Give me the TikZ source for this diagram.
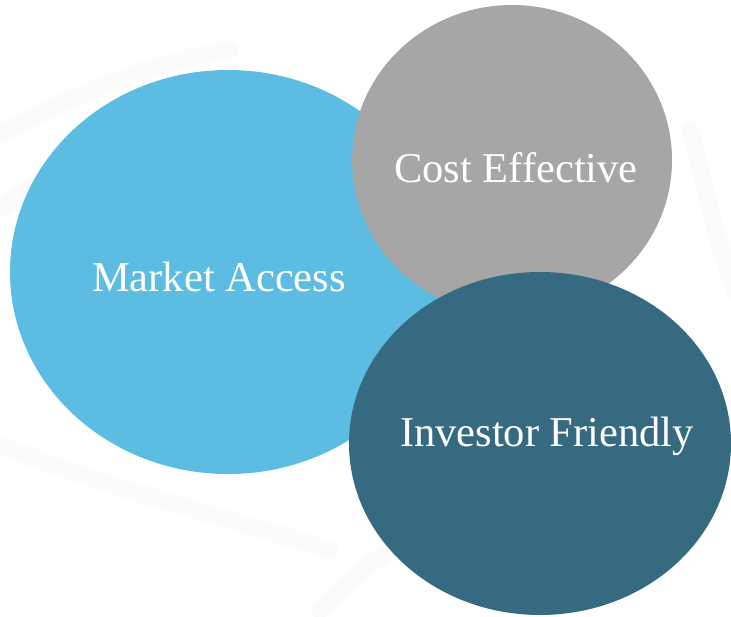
\documentclass[tikz,border=0pt]{standalone}
\usepackage{fontspec}
\setmainfont{Liberation Serif}
\definecolor{accessblue}{RGB}{93,188,226}
\definecolor{costgray}{RGB}{166,166,166}
\definecolor{investteal}{RGB}{54,106,128}

\begin{document}
\begin{tikzpicture}[x=1pt, y=-1pt]

%-------------------------------------------------
% Styles
%-------------------------------------------------
\tikzset{
  swirl/.style={draw=black!1.5, line width=18pt, line cap=round},
  bubble/.style={draw=none},
  label/.style={text=white, inner sep=0pt, font=\fontsize{42.5}{50}\selectfont}
}

\useasboundingbox (0,0) rectangle (731,616);
\clip (0,0) rectangle (731,616);

%-------------------------------------------------
% Faint background swirls
%-------------------------------------------------
\draw[swirl] (-10,140) .. controls (80,90) and (160,60) .. (230,50);
\draw[swirl] (-10,215) .. controls (70,160) and (140,120) .. (200,100);
\draw[swirl] (-10,440) .. controls (80,480) and (200,510) .. (330,550);
\draw[swirl] (320,610) .. controls (380,550) and (440,510) .. (520,480);
\draw[swirl] (690,130) .. controls (710,200) and (720,260) .. (740,300);

%-------------------------------------------------
% Bubbles (back to front)
%-------------------------------------------------
\fill[bubble, accessblue] (228,272) ellipse [x radius=218, y radius=202];
\fill[bubble, costgray]   (512,160) ellipse [x radius=160, y radius=155];
\fill[bubble, investteal] (540,443.5) ellipse [x radius=191, y radius=171.5];

%-------------------------------------------------
% Labels
%-------------------------------------------------
\node[label] (access) at (219,277) {Market Access};
\node[label] (cost)   at (516,168) {Cost Effective};
\node[label] (invest) at (547,436) {Investor Friendly};

\end{tikzpicture}
\end{document}
